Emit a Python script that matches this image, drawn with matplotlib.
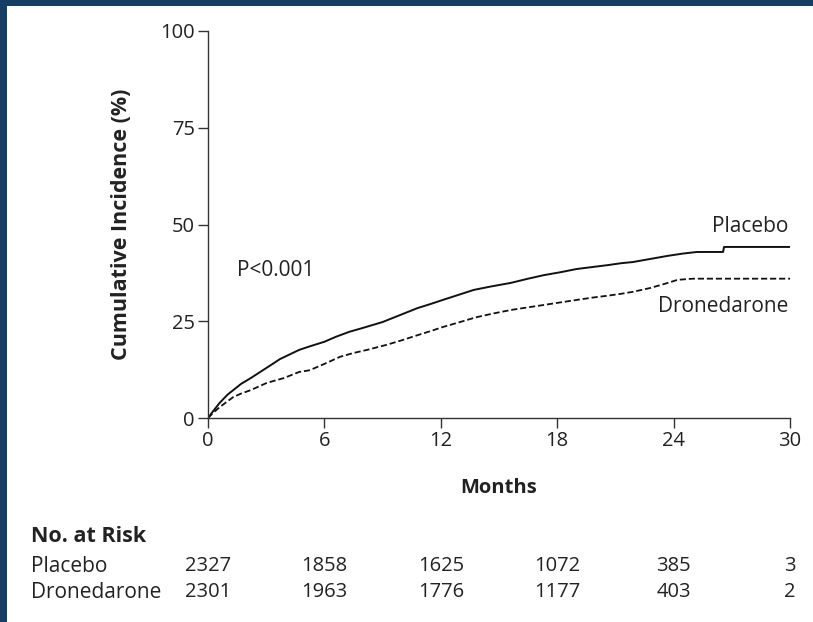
import matplotlib
matplotlib.use("Agg")
import matplotlib.pyplot as plt
import matplotlib.patches as mpatches
import matplotlib.transforms as mtransforms

# ── data ──────────────────────────────────────────────────────────────────────
placebo_t = [0, 0.3, 0.6, 1.0, 1.3, 1.7, 2.2, 2.6, 3.0, 3.4, 3.7, 4.2, 4.7, 5.3,
             6.0, 6.6, 7.3, 8.0, 9.0, 10.0, 10.8, 11.5, 12.1, 12.9, 13.7, 14.6,
             15.6, 16.5, 17.3, 18.2, 19.0, 19.8, 20.6, 21.3, 21.9, 22.8, 23.7,
             24.5, 25.2, 26.55, 26.6, 30.0]
placebo_v = [0, 2.0, 3.9, 6.0, 7.2, 8.8, 10.3, 11.6, 12.9, 14.2, 15.2, 16.4, 17.6,
             18.6, 19.7, 21.0, 22.3, 23.3, 24.8, 26.8, 28.4, 29.5, 30.5, 31.8,
             33.1, 34.0, 34.9, 36.0, 36.9, 37.7, 38.5, 39.0, 39.5, 40.0, 40.3,
             41.1, 41.9, 42.5, 42.9, 42.9, 44.2, 44.2]

drone_t = [0, 0.3, 0.6, 1.0, 1.3, 1.7, 2.2, 2.6, 3.0, 3.4, 3.9, 4.3, 4.7, 5.2,
           5.5, 6.1, 6.8, 7.5, 8.2, 9.2, 10.0, 10.8, 11.5, 12.1, 13.0, 13.8,
           14.7, 15.6, 16.5, 17.3, 18.2, 19.0, 19.8, 20.6, 21.3, 21.9, 22.8,
           23.7, 24.2, 25.0, 30.0]
drone_v = [0, 1.5, 2.8, 4.3, 5.4, 6.3, 7.2, 8.1, 9.0, 9.6, 10.3, 11.1, 11.9, 12.3,
           12.9, 14.2, 15.8, 16.8, 17.6, 18.9, 20.1, 21.4, 22.5, 23.5, 24.8,
           26.0, 27.0, 27.9, 28.6, 29.2, 29.9, 30.5, 31.1, 31.6, 32.1, 32.6,
           33.6, 34.9, 35.7, 36.0, 36.0]

x_ticks = [0, 6, 12, 18, 24, 30]
y_ticks = [0, 25, 50, 75, 100]
risk_placebo = [2327, 1858, 1625, 1072, 385, 3]
risk_drone = [2301, 1963, 1776, 1177, 403, 2]

NAVY = "#163E64"
INK = "#222222"
FONT = "Open Sans"

W, H = 813, 622
fig = plt.figure(figsize=(W / 100, H / 100), dpi=100, facecolor=NAVY)
# white panel inside the navy frame (frame only on left and top)
fig.patches.append(mpatches.Rectangle((7 / W, 0), 1, 1 - 6 / H,
                                      transform=fig.transFigure,
                                      facecolor="white", edgecolor="none",
                                      zorder=-10))

ax = fig.add_axes([208 / W, 1 - 418 / H, 582 / W, 387 / H])
ax.set_facecolor("none")

ax.plot(placebo_t, placebo_v, color="#111111", lw=1.4)
ax.plot(drone_t, drone_v, color="#111111", lw=1.3,
        linestyle=(0, (3.4, 1.6)))

ax.set_xlim(0, 30)
ax.set_ylim(0, 100)
ax.set_xticks(x_ticks)
ax.set_yticks(y_ticks)
for s in ["top", "right"]:
    ax.spines[s].set_visible(False)
for s in ["left", "bottom"]:
    ax.spines[s].set_color("#333333")
    ax.spines[s].set_linewidth(1.0)
ax.tick_params(axis="both", direction="out", length=7.5, width=1.0,
               color="#333333", labelcolor=INK, labelsize=14.5)
ax.tick_params(axis="y", pad=2)
ax.tick_params(axis="x", pad=1.5)
for lbl in ax.get_xticklabels() + ax.get_yticklabels():
    lbl.set_fontfamily(FONT)

ax.set_ylabel("Cumulative Incidence (%)", fontsize=15.5, fontweight="bold",
              fontfamily=FONT, color=INK)
ax.yaxis.set_label_coords(-76 / 582, 0.5)
ax.set_xlabel("Months", fontsize=14.5, fontweight="bold", fontfamily=FONT,
              color=INK)
ax.xaxis.set_label_coords(0.5, -60 / 387)

ax.text(1.5, 38, "P<0.001", fontsize=15, fontfamily=FONT, color=INK,
        ha="left", va="center")
ax.text(29.9, 49.6, "Placebo", fontsize=15, fontfamily=FONT, color=INK,
        ha="right", va="center")
ax.text(29.9, 28.7, "Dronedarone", fontsize=15, fontfamily=FONT, color=INK,
        ha="right", va="center")

# ── number at risk table ─────────────────────────────────────────────────────
trans = mtransforms.blended_transform_factory(ax.transData, fig.transFigure)
fig.text(31 / W, 1 - 536 / H, "No. at Risk", fontsize=15.5, fontweight="bold",
         fontfamily=FONT, color=INK, ha="left", va="center")
rows = [("Placebo", risk_placebo, 566), ("Dronedarone", risk_drone, 592)]
for name, vals, ypx in rows:
    fig.text(31 / W, 1 - ypx / H, name, fontsize=15, fontfamily=FONT,
             color=INK, ha="left", va="center")
    for t, v in zip(x_ticks, vals):
        ax.text(t, 1 - ypx / H, str(v), transform=trans, fontsize=14.5,
                fontfamily=FONT, color=INK, ha="center", va="center",
                clip_on=False)

fig.savefig("out.png", dpi=100, facecolor=NAVY)
